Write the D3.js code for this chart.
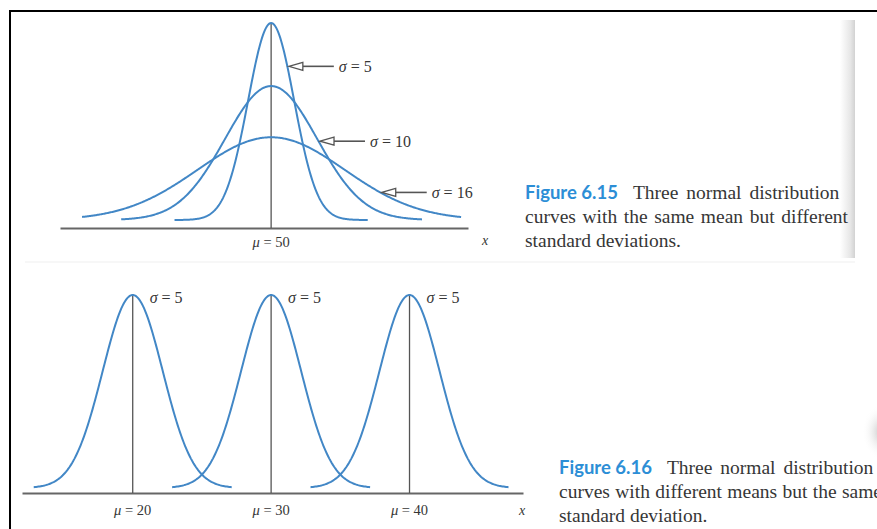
<!DOCTYPE html>
<html>
<head>
<meta charset="utf-8">
<script src="https://cdn.jsdelivr.net/npm/d3@7"></script>
<style>
  html, body { margin: 0; padding: 0; background: #fff; }
  svg { display: block; }
</style>
</head>
<body>
<svg id="page" width="877" height="529"></svg>
<script>
// ---- Figure 6.15: one mean, three standard deviations ----
const sameMean = 50;
const spreadSigmas = [5, 10, 16];
const spreadPeaks = [1.0, 0.68, 0.42];          // relative heights of the three curves
const spreadFrom = [29, 17.4, 8.9];             // x where each curve starts
const spreadTo = [71, 82.8, 91.3];              // x where each curve ends
const spreadArrowLevels = [0.78, 0.40, 0.14];   // height at which each σ arrow meets its curve
const spreadAxisDomain = [4.1, 92.8];

// ---- Figure 6.16: three means, one standard deviation ----
const shiftMeans = [20, 30, 40];
const shiftSigmas = [5, 5, 5];
const shiftPeaks = [1, 1, 1];
const shiftReach = [16.5, 16.5, 16.5];          // distance drawn on each side of the mean
const shiftAxisDomain = [12, 48.2];

// ---- captions ----
const caption615 = ["Figure 6.15", "Three normal distribution",
  "curves with the same mean but different", "standard deviations."];
const caption616 = ["Figure 6.16", "Three normal distribution",
  "curves with different means but the same", "standard deviation."];

const svg = d3.select("#page");
const curveColor = "#4287c6";
const ink = "#555";
const textInk = "#363636";
const serif = "'Liberation Serif','Times New Roman',serif";
const sans = "Lato,'Open Sans',sans-serif";

const gauss = (x, mu, s, peak) => peak * Math.exp(-0.5 * ((x - mu) / s) ** 2);
const samples = (a, b, step) => { const r = d3.range(a, b, step); r.push(b); return r; };

// paper and page-edge shading
svg.append("rect").attr("width", 877).attr("height", 529).attr("fill", "#fff");
const defs = svg.append("defs");
const edge = defs.append("linearGradient").attr("id", "edgeShade");
edge.append("stop").attr("offset", "0%").attr("stop-color", "#fff");
edge.append("stop").attr("offset", "70%").attr("stop-color", "#e6e6e6");
edge.append("stop").attr("offset", "100%").attr("stop-color", "#d2d2d2");
svg.append("rect").attr("x", 840).attr("y", 20).attr("width", 15).attr("height", 238)
  .attr("fill", "url(#edgeShade)");
const curl = defs.append("radialGradient").attr("id", "curlShade");
curl.append("stop").attr("offset", "0%").attr("stop-color", "#c2c2c2");
curl.append("stop").attr("offset", "100%").attr("stop-color", "#fff").attr("stop-opacity", 0);
svg.append("ellipse").attr("cx", 882).attr("cy", 432).attr("rx", 20).attr("ry", 28)
  .attr("fill", "url(#curlShade)");
svg.append("line").attr("x1", 25).attr("x2", 855).attr("y1", 262).attr("y2", 262)
  .attr("stroke", "#efefef").attr("stroke-width", 1);

// frame
svg.append("line").attr("x1", 9).attr("x2", 877).attr("y1", 11).attr("y2", 11)
  .attr("stroke", "#000").attr("stroke-width", 2);
svg.append("line").attr("x1", 10).attr("x2", 10).attr("y1", 10).attr("y2", 529)
  .attr("stroke", "#000").attr("stroke-width", 2);

function sigmaLabel(sel, value) {
  sel.append("tspan").attr("font-style", "italic").text("σ");
  sel.append("tspan").text(" = " + value);
}
function muLabel(sel, value) {
  sel.append("tspan").attr("font-style", "italic").text("μ");
  sel.append("tspan").text(" = " + value);
}
function styleAxis(g) {
  g.select(".domain").attr("stroke", "#666").attr("stroke-width", 2.2);
}

// ================= Figure 6.15 =================
const xTop = d3.scaleLinear().domain(spreadAxisDomain).range([60, 468]);
const yTop = d3.scaleLinear().domain([0, 1]).range([220, 23]);
const axisTopY = 228;
const topPanel = svg.append("g");

topPanel.append("g").attr("transform", `translate(0,${axisTopY})`)
  .call(d3.axisBottom(xTop).tickValues([]).tickSizeOuter(0))
  .call(styleAxis);

topPanel.append("line")
  .attr("x1", xTop(sameMean)).attr("x2", xTop(sameMean))
  .attr("y1", yTop(d3.max(spreadPeaks))).attr("y2", axisTopY)
  .attr("stroke", ink).attr("stroke-width", 1.3);

spreadSigmas.forEach((s, i) => {
  const line = d3.line()
    .x(d => xTop(d))
    .y(d => yTop(gauss(d, sameMean, s, spreadPeaks[i])));
  topPanel.append("path")
    .datum(samples(spreadFrom[i], spreadTo[i], 0.2))
    .attr("d", line)
    .attr("fill", "none").attr("stroke", curveColor).attr("stroke-width", 2);
});

// arrows pointing at the right flank of each curve
spreadSigmas.forEach((s, i) => {
  const lvl = spreadArrowLevels[i];
  const off = s * Math.sqrt(2 * Math.log(spreadPeaks[i] / lvl));
  const tx = xTop(sameMean + off) + 1.5;
  const ty = yTop(lvl);
  const head = 14, half = 4, shaft = 31;
  topPanel.append("line").attr("x1", tx + head).attr("x2", tx + head + shaft)
    .attr("y1", ty).attr("y2", ty).attr("stroke", ink).attr("stroke-width", 1.6);
  topPanel.append("path")
    .attr("d", `M${tx},${ty}L${tx + head},${ty - half}L${tx + head},${ty + half}Z`)
    .attr("fill", "#fff").attr("stroke", ink).attr("stroke-width", 1.3);
  topPanel.append("text")
    .attr("x", tx + head + shaft + 5).attr("y", ty + 5.5)
    .attr("font-family", serif).attr("font-size", 16).attr("fill", textInk)
    .call(sigmaLabel, s);
});

topPanel.append("text")
  .attr("x", xTop(sameMean)).attr("y", 247).attr("text-anchor", "middle")
  .attr("font-family", serif).attr("font-size", 14.5).attr("fill", textInk)
  .call(muLabel, sameMean);
topPanel.append("text").attr("x", 482).attr("y", 245)
  .attr("font-family", serif).attr("font-size", 14).attr("font-style", "italic")
  .attr("fill", textInk).text("x");

// ================= Figure 6.16 =================
const xBot = d3.scaleLinear().domain(shiftAxisDomain).range([22, 523]);
const yBot = d3.scaleLinear().domain([0, 1]).range([488, 295]);
const bellWidth = d3.scaleLinear().domain([0, 1]).range([0, 6]); // horizontal drawing scale of each bell
const axisBotY = 493;
const bottomPanel = svg.append("g");

bottomPanel.append("g").attr("transform", `translate(0,${axisBotY})`)
  .call(d3.axisBottom(xBot).tickValues([]).tickSizeOuter(0))
  .call(styleAxis);

shiftMeans.forEach((mu, i) => {
  const s = shiftSigmas[i];
  bottomPanel.append("line")
    .attr("x1", xBot(mu)).attr("x2", xBot(mu))
    .attr("y1", yBot(shiftPeaks[i])).attr("y2", axisBotY)
    .attr("stroke", ink).attr("stroke-width", 1.3);
  const line = d3.line()
    .x(t => xBot(mu) + bellWidth(t))
    .y(t => yBot(gauss(t, 0, s, shiftPeaks[i])));
  bottomPanel.append("path")
    .datum(samples(-shiftReach[i], shiftReach[i], 0.2))
    .attr("d", line)
    .attr("fill", "none").attr("stroke", curveColor).attr("stroke-width", 2);
  bottomPanel.append("text")
    .attr("x", xBot(mu) + 17).attr("y", yBot(shiftPeaks[i]) + 8)
    .attr("font-family", serif).attr("font-size", 16).attr("fill", textInk)
    .call(sigmaLabel, s);
  bottomPanel.append("text")
    .attr("x", xBot(mu)).attr("y", 515).attr("text-anchor", "middle")
    .attr("font-family", serif).attr("font-size", 14.5).attr("fill", textInk)
    .call(muLabel, mu);
});
bottomPanel.append("text").attr("x", 519).attr("y", 515)
  .attr("font-family", serif).attr("font-size", 14).attr("font-style", "italic")
  .attr("fill", textInk).text("x");

// ================= captions (set to a 323px column, running off the page edge) =================
const columnWidth = 323;
function caption(lines, x, y0) {
  const g = svg.append("g").attr("font-family", serif).attr("font-size", 19.5)
    .attr("fill", textInk);
  const first = g.append("text").attr("x", x).attr("y", y0);
  first.append("tspan").attr("font-family", sans).attr("font-weight", 700)
    .attr("font-size", 18.5).attr("fill", "#2c8ed6").text(lines[0]);
  const rest = first.append("tspan").attr("dx", 12).text(lines[1]);
  const gaps1 = lines[1].split(" ").length;
  const extra1 = Math.min(3, Math.max(0, (columnWidth - 12 - first.node().getComputedTextLength()) / gaps1));
  rest.attr("dx", 12 + extra1).attr("word-spacing", extra1);
  const second = g.append("text").attr("x", x).attr("y", y0 + 24).text(lines[2]);
  const gaps2 = lines[2].split(" ").length - 1;
  const extra2 = Math.min(3, Math.max(0, (columnWidth - second.node().getComputedTextLength()) / gaps2));
  second.attr("word-spacing", extra2);
  g.append("text").attr("x", x).attr("y", y0 + 48).text(lines[3]);
}
caption(caption615, 525, 199);
caption(caption616, 559, 474);
</script>
</body>
</html>
